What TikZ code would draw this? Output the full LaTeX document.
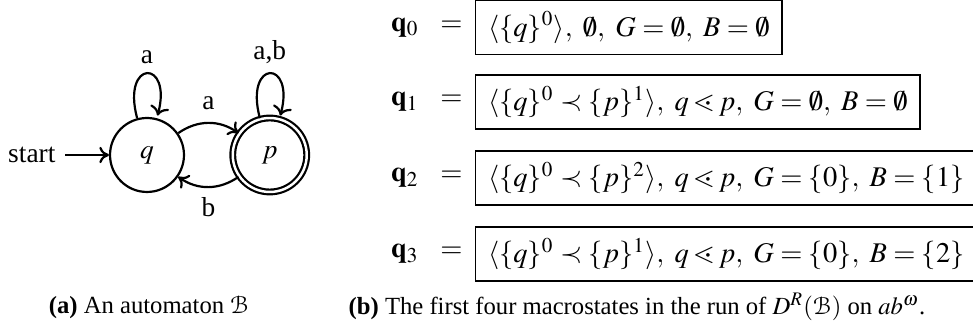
\documentclass[tikz,border=0pt]{standalone}
\usepackage{amsmath}
\usepackage{amssymb}
\usepackage{mathptmx}
\usepackage[mathcal]{eucal}
\usepackage[no-math]{fontspec}
\setmainfont{Liberation Serif}
\usepackage{tikz}
\usetikzlibrary{arrows.meta,positioning}

\begin{document}
\begin{tikzpicture}[x=0.365pt,y=0.365pt,
  stnode/.style={circle,draw,thick,minimum size=27pt,inner sep=0pt},
  accnode/.style={stnode,double,double distance=0.9pt},
  trans/.style={thick,-{To[length=3.5pt,width=6pt]}},
  macro/.style={draw,line width=0.5pt,inner xsep=4.5pt,inner ysep=0pt,
    minimum height=19.8pt,anchor=west,font=\fontsize{10.4}{12.5}\selectfont},
  mlabel/.style={inner sep=0pt,left=4.4pt of #1,font=\fontsize{10.4}{12.5}\selectfont},
  subcap/.style={font=\small}]
  \useasboundingbox (0,0) rectangle (973,325);
  % (a) the automaton
  \node[stnode] (q) at (147,170) {$q$};
  \node[accnode,right=17pt of q] (p) {$p$};
  \node[left=16pt of q] (start) {start};
  \draw[trans] (start) -- (q);
  \path (q) edge[trans,loop above] node[above] {a} (q);
  \path (p) edge[trans,loop above] node[above] {a,b} (p);
  \path (q) edge[trans,bend left=35] node[above=1pt] {a} (p);
  \path (p) edge[trans,bend left=35] node[below] {b} (q);
  \node[subcap] (capa) at (149,18) {\textbf{(a)} An automaton $\mathcal{B}$};
  % (b) the macrostates
  \node[macro] (m0) at (475,297.5) {$\langle\{q\}^0\rangle,\ \emptyset,\ G=\emptyset,\ B=\emptyset$};
  \node[macro] (m1) at (475,223) {$\langle\{q\}^0\prec\{p\}^1\rangle,\ q\lessdot p,\ G=\emptyset,\ B=\emptyset$};
  \node[macro] (m2) at (475,147) {$\langle\{q\}^0\prec\{p\}^2\rangle,\ q\lessdot p,\ G=\{0\},\ B=\{1\}$};
  \node[macro] (m3) at (475,71) {$\langle\{q\}^0\prec\{p\}^1\rangle,\ q\lessdot p,\ G=\{0\},\ B=\{2\}$};
  \node[mlabel=m0] (l0) {$\mathbf{q}_0\hspace{5.5pt}=$};
  \node[mlabel=m1] (l1) {$\mathbf{q}_1\hspace{5.5pt}=$};
  \node[mlabel=m2] (l2) {$\mathbf{q}_2\hspace{5.5pt}=$};
  \node[mlabel=m3] (l3) {$\mathbf{q}_3\hspace{5.5pt}=$};
  \node[subcap] (capb) at (637,18) {\textbf{(b)} The first four macrostates in the run of $D^R(\mathcal{B})$ on $ab^\omega$.};
\end{tikzpicture}
\end{document}
